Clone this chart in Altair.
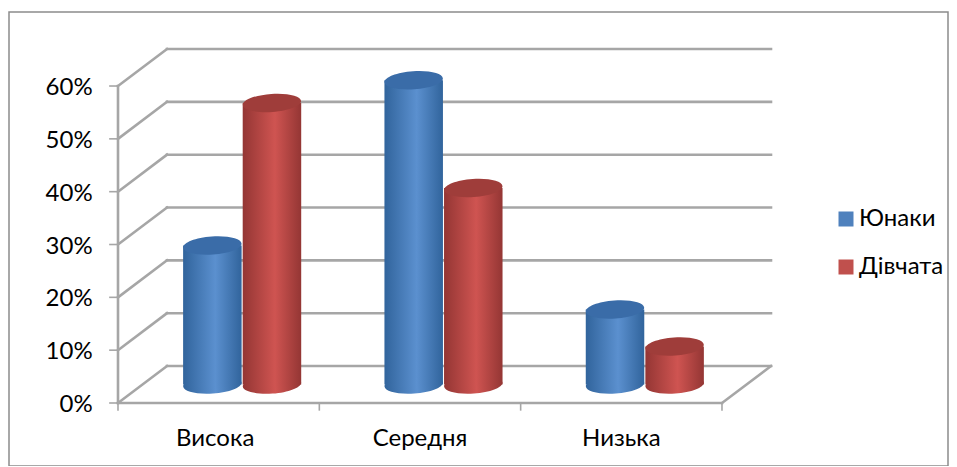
import altair as alt
import pandas as pd

categories = ["Висока", "Середня", "Низька"]
series = ["Юнаки", "Дівчата"]
boys = [26.3, 57.6, 14.2]
girls = [53.3, 37.2, 7.2]
percent_ticks = [0, 10, 20, 30, 40, 50, 60]
label_nudge = [-3.5, 0, 0]

FONT = "Lato"
FS = 24
GRID = "#a6a6a6"
DX, DY = 0.2434, 7.0
sx = alt.Scale(domain=[-0.5414, 4.1226], nice=False, zero=False, padding=0)
sy = alt.Scale(domain=[-11.925, 74.01], nice=False, zero=False, padding=0)
X = lambda f: alt.X(f, type="quantitative", scale=sx, axis=None)
Y = lambda f: alt.Y(f, type="quantitative", scale=sy, axis=None)


def seg(rows, width=2.6, color=GRID):
    d = pd.DataFrame(rows, columns=["a", "a2", "b", "b2"])
    return alt.Chart(d).mark_rule(strokeWidth=width, color=color, strokeCap="square").encode(
        x=X("a"), x2="a2", y=Y("b"), y2="b2")


back = seg([(DX, 3 + DX, v + DY, v + DY) for v in percent_ticks])
diag = seg([(0, DX, v, v + DY) for v in percent_ticks] + [(3, 3 + DX, 0, DY)])
frame = seg([(0, 3, 0, 0), (0, 0, 0, 60)])
yticks = seg([(-0.04, 0, v, v) for v in percent_ticks], width=1.6)
xticks = seg([(i, i, 0, -1.3) for i in range(4)], width=1.6)


def grad(edge, mid):
    return alt.Gradient(
        gradient="linear", x1=0, x2=1, y1=0, y2=0,
        stops=[alt.GradientStop(offset=0, color=edge),
               alt.GradientStop(offset=0.55, color=mid),
               alt.GradientStop(offset=1, color=edge)])


ELLIPSE = "M-1,0 A1,0.31 0 1 1 1,0 A1,0.31 0 1 1 -1,0 Z"
STYLE = {
    0: (grad("#31649c", "#5b90cf"), "#3a6ca8", -0.148),
    1: (grad("#943634", "#cf5451"), "#9f3d3a", 0.148),
}
layers = [back, diag, frame, yticks, xticks]
for k, vals in enumerate([boys, girls]):
    g, top, off = STYLE[k]
    d = pd.DataFrame({
        "c": [i + 0.5 + DX / 2 + off - 0.005 for i in range(3)],
        "base": [DY / 2] * 3,
        "top": [v + DY / 2 for v in vals],
    })
    base = alt.Chart(d)
    layers.append(base.mark_point(shape=ELLIPSE, size=3420, angle=356, filled=True, fill=g, opacity=1, strokeWidth=0)
                  .encode(x=X("c"), y=Y("base")))
    layers.append(base.mark_bar(size=58.5, orient="vertical", fill=g).encode(x=X("c"), y=Y("base"), y2="top"))
    layers.append(base.mark_point(shape=ELLIPSE, size=3420, angle=356, filled=True, fill=top, opacity=1, strokeWidth=0)
                  .encode(x=X("c"), y=Y("top")))

ylab = pd.DataFrame({"v": percent_ticks, "t": [f"{v}%" for v in percent_ticks]})
layers.append(alt.Chart(ylab).mark_text(font=FONT, fontSize=FS, align="right", baseline="middle", color="#000", dy=2)
              .encode(x=alt.datum(-0.126, scale=sx, axis=None), y=Y("v"), text="t:N"))

for i, cat in enumerate(categories):
    xlab = pd.DataFrame({"c": [i + 0.5], "t": [cat], "b": [-6.8]})
    layers.append(alt.Chart(xlab).mark_text(font=FONT, fontSize=FS, align="center", baseline="middle", color="#000",
                                            dx=label_nudge[i])
                  .encode(x=X("c"), y=Y("b"), text="t:N"))

legend_df = pd.DataFrame({"s": series, "a": [0, 0], "b": [0, 0]})
layers.append(alt.Chart(legend_df).mark_square(size=0, opacity=1).encode(
    x=X("a"), y=Y("b"),
    color=alt.Color("s:N", scale=alt.Scale(domain=series, range=["#4f81bd", "#c0504d"]),
                    legend=alt.Legend(title=None, orient="none", legendX=825, legendY=195, symbolType="square",
                                      symbolSize=225, labelFont=FONT, labelFontSize=FS, labelColor="#000",
                                      rowPadding=24, symbolStrokeWidth=0, labelOffset=1))))

chart = alt.layer(*layers).properties(
    width=939, height=454,
    autosize=alt.AutoSizeParams(type="none"),
    padding={"left": 1, "top": 4, "right": 1, "bottom": 0},
).configure_view(stroke="#8c8c8c", strokeWidth=1.5)

chart.save("out.html", embed_options={"renderer": "svg", "actions": False})
